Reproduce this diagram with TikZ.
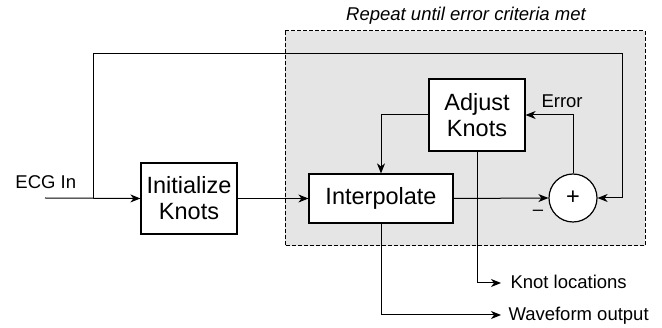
\documentclass[tikz,border=0pt]{standalone}
\usepackage{fontspec}
\setmainfont{Liberation Sans}
\usetikzlibrary{arrows.meta}
\definecolor{loopgray}{RGB}{229,229,229}
\begin{document}
\begin{tikzpicture}[x=1pt,y=-1pt,
  line width=1pt,
  blk/.style={draw, fill=white, line width=1.2pt, align=center, inner sep=0pt,
    font=\fontsize{23.5}{26}\selectfont},
  lbl/.style={font=\fontsize{18.5}{21}\selectfont, inner sep=0pt},
  arr/.style={-{Stealth[length=10pt,width=8pt,inset=3pt]}},
]
\useasboundingbox (0,0) rectangle (662,328);
% loop region
\draw[fill=loopgray, dash pattern=on 4pt off 2pt] (285,31) rectangle (645,246);
\node[lbl, font=\fontsize{18.5}{21}\selectfont\itshape, anchor=base] (rep) at (466,21) {Repeat until error criteria met};

% blocks
\node[blk, minimum width=96pt, minimum height=71pt] (init) at (189,198.5) {Initialize\\Knots};
\node[blk, minimum width=144pt, minimum height=49pt] (interp) at (381,198.5) {Interpolate};
\node[blk, minimum width=96pt, minimum height=72pt] (adj) at (477,115) {Adjust\\Knots};
\node[draw, fill=white, line width=1.2pt, circle, minimum size=48pt, inner sep=0pt,
  font=\fontsize{23.5}{26}\selectfont] (sum) at (573,198) {+};

% coordinates
\coordinate (in) at (45,198);
\coordinate (tap) at (93,198);
\coordinate (fbtop) at (622,54);
\coordinate (knotout) at (501,283);
\coordinate (waveout) at (501,315);

% connectors
\draw[arr] (in) -- (init.west);
\draw[arr] (tap) |- (fbtop) |- (sum.east);
\draw[arr] (init.east) -- (interp.west);
\draw[arr] (interp.east) -- (sum.west);
\draw[arr] (adj.west) -| (interp.north);
\draw[arr] (sum.north) |- (adj.east);
\draw[arr] (adj.south) |- (knotout);
\draw[arr] (interp.south) |- (waveout);

% labels
\node[lbl, anchor=base west] (ecg) at (15,189) {ECG In};
\node[lbl, anchor=base west] (err) at (541,108) {Error};
\node[lbl, anchor=base west] (kl) at (510,289) {Knot locations};
\node[lbl, anchor=base west] (wo) at (508,321) {Waveform output};
\node[lbl, anchor=center] (minus) at (538,213) {–};
\end{tikzpicture}
\end{document}
